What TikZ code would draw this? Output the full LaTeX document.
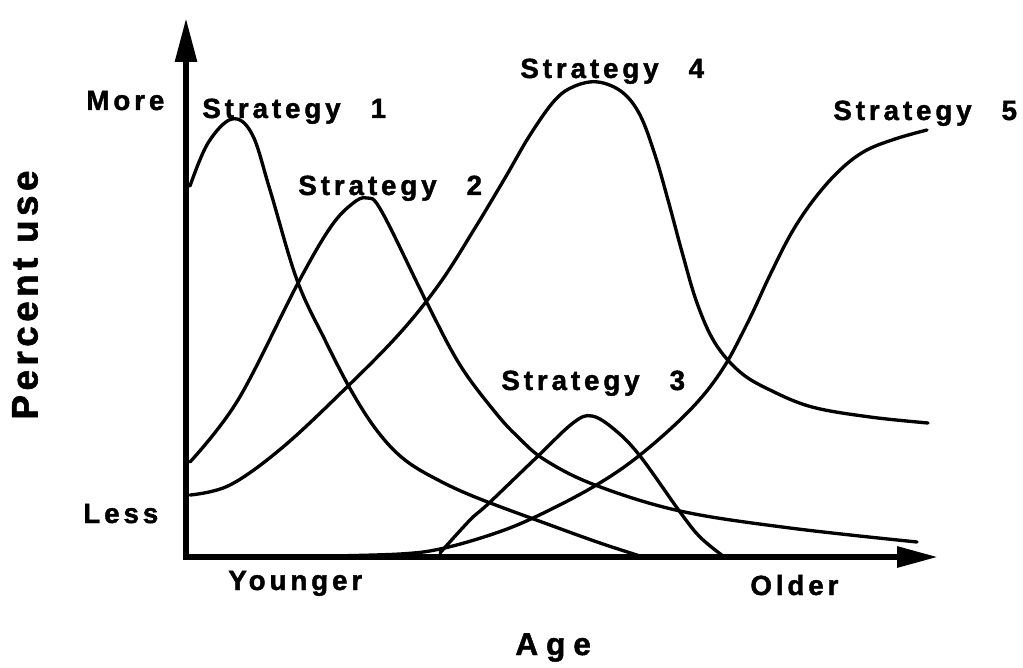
\documentclass[tikz,border=0pt]{standalone}
\usepackage{fontspec}
\usepackage{tikz}
\usetikzlibrary{arrows.meta}
\newfontfamily\lblfont{Liberation Sans}[LetterSpace=14, BoldFeatures={FakeBold=1.5}]

\begin{document}
\begin{tikzpicture}[x=0.02cm,y=-0.02cm,
  lbl/.style={font=\lblfont\fontsize{15.8}{18}\selectfont\bfseries, inner sep=0pt, anchor=base west},
  axis/.style={line width=3.4pt, line join=miter, {Triangle[length=0.88cm,width=0.42cm]}-{Triangle[length=0.82cm,width=0.4cm]}},
  curve/.style={line width=1.9pt, line cap=round}]
\useasboundingbox (0,0) rectangle (1023,668);
% axes
\coordinate (origin) at (186,557);
\coordinate (ytop) at (186,18);
\coordinate (xend) at (938,557);
\draw[axis] (ytop) -- (origin) -- (xend);
% strategy 1
\draw[curve] plot[smooth,tension=0.6] coordinates {(190,186) (208,143) (232,119) (252,134) (270,190) (297,280) (325,340) (352,392) (378,432) (405,460) (440,481) (480,499) (550,525) (600,543) (640,556)};
% strategy 2
\draw[curve] plot[smooth,tension=0.6] coordinates {(190,462) (238,400) (297,285) (330,228) (352,204) (367,198) (382,212) (427,303) (460,365) (495,412) (518,437) (545,460) (595,485) (680,511) (790,528) (917,542)};
% strategy 3
\draw[curve] plot[smooth,tension=0.6] coordinates {(440,553) (470,520) (488,504) (537,457) (573,423) (592,416) (615,430) (640,456) (680,512) (700,537) (723,556)};
% strategy 4
\draw[curve] plot[smooth,tension=0.6] coordinates {(190,495) (230,485) (283,447) (347,387) (400,333) (440,283) (475,228) (505,178) (530,135) (555,100) (575,86) (598,82) (622,92) (640,115) (655,155) (668,200) (682,252) (697,303) (715,343) (740,372) (770,390) (812,407) (870,417) (928,423)};
% strategy 5
\draw[curve] plot[smooth,tension=0.6] coordinates {(330,556) (400,554) (440,549) (490,535) (533,518) (593,487) (640,455) (690,410) (722,370) (748,322) (770,275) (792,232) (815,198) (840,170) (865,151) (895,139) (927,130)};
% labels
\node[lbl] (strat1) at (202,118) {Strategy\hspace{0.6cm}1};
\node[lbl] (strat2) at (298,195) {Strategy\hspace{0.6cm}2};
\node[lbl] (strat3) at (501,390) {Strategy\hspace{0.6cm}3};
\node[lbl] (strat4) at (520,78) {Strategy\hspace{0.6cm}4};
\node[lbl] (strat5) at (833,120) {Strategy\hspace{0.6cm}5};
\node[lbl] (more) at (86,110) {More};
\node[lbl] (less) at (83,523) {Less};
\node[lbl] (younger) at (228,590) {Younger};
\node[lbl] (older) at (750,595) {Older};
\node[lbl, font=\lblfont\fontsize{18}{21}\selectfont\bfseries\addfontfeature{LetterSpace=25}] (age) at (515,655) {Age};
\node[lbl, anchor=center, rotate=90, font=\lblfont\fontsize{21}{24}\selectfont\bfseries\addfontfeature{LetterSpace=12}] (pctuse) at (25,295) {Percent use};
\end{tikzpicture}
\end{document}
